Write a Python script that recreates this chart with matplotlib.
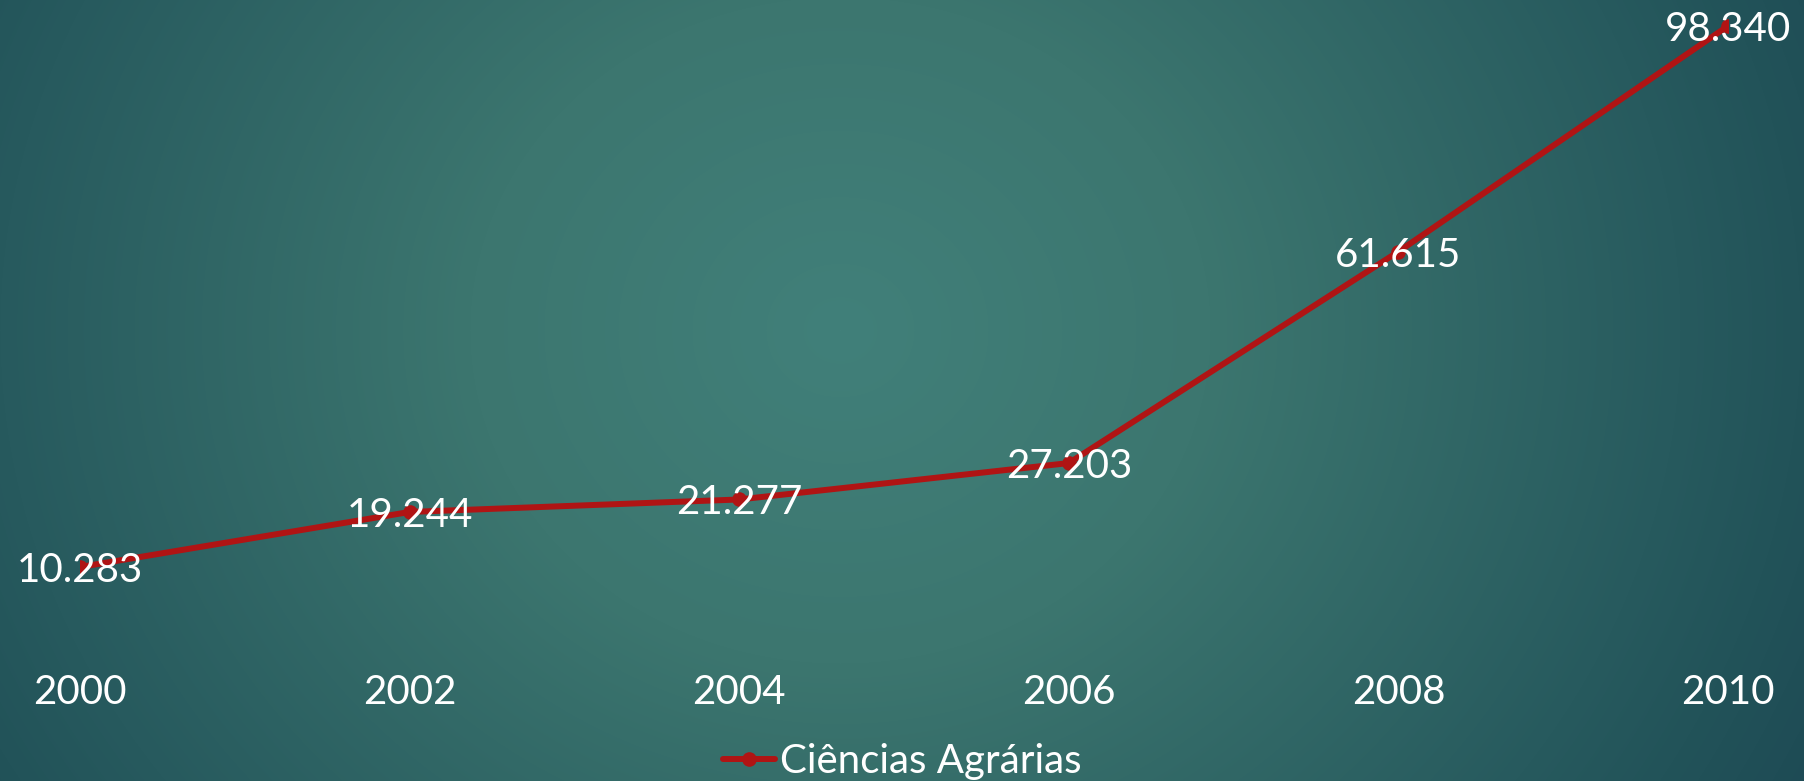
import numpy as np
import matplotlib
matplotlib.use("Agg")
import matplotlib.pyplot as plt

years = ["2000", "2002", "2004", "2006", "2008", "2010"]
values = [10.283, 19.244, 21.277, 27.203, 61.615, 98.340]
labels = ["10.283", "19.244", "21.277", "27.203", "61.615", "98.340"]
series_name = "Ciências Agrárias"

W, H, DPI = 1804, 781, 100
FONT = ["Lato", "DejaVu Sans"]
RED = "#b01414"

fig = plt.figure(figsize=(W / DPI, H / DPI), dpi=DPI)

# background radial gradient
bg = fig.add_axes([0, 0, 1, 1], zorder=0)
yy, xx = np.mgrid[0:H, 0:W]
d = np.sqrt(((xx - 840) / 1000.0) ** 2 + ((yy - 330) / 900.0) ** 2)
stops = [0.0, 0.37, 0.84, 0.96, 1.09, 1.5]
cols = np.array([(65, 128, 122), (60, 118, 111), (39, 90, 94), (34, 83, 89), (30, 75, 85), (26, 66, 78)]) / 255.0
img = np.dstack([np.interp(d, stops, cols[:, i]) for i in range(3)])
bg.imshow(img, aspect="auto", extent=[0, 1, 0, 1], origin="upper")
bg.axis("off")

left = 80 / W
right = 1728 / W
bottom = (H - 630.2) / H
top = (H - 15.8) / H
ax = fig.add_axes([left, bottom, right - left, top - bottom], zorder=1)
ax.patch.set_alpha(0)
x = np.arange(len(years))
line, = ax.plot(x, values, color=RED, lw=4.3, marker="o", ms=9.5, solid_capstyle="round", label=series_name)
ax.set_xlim(0, len(years) - 1)
ax.set_ylim(0, 100)
for xi, v, lab in zip(x, values, labels):
    ax.text(xi, v, lab, ha="center", va="center_baseline", color="white", fontsize=29,
            family=FONT, zorder=5)
ax.set_xticks(x)
ax.set_xticklabels(years, color="white", fontsize=29, family=FONT)
ax.tick_params(axis="x", length=0, pad=31.5)
ax.set_yticks([])
for s in ax.spines.values():
    s.set_visible(False)

leg = fig.legend(handles=[line], loc="center", bbox_to_anchor=(902 / W, (H - 762) / H),
                 frameon=False, prop={"family": FONT, "size": 29}, labelcolor="white",
                 handlelength=1.3, handletextpad=0.12, borderpad=0)

fig.savefig("out.png", dpi=DPI)
